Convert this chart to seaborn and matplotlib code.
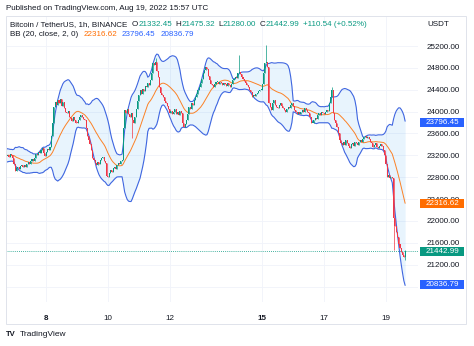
import numpy as np
import pandas as pd
import seaborn as sns
import matplotlib.pyplot as plt
from matplotlib.patches import Rectangle
import matplotlib.transforms as mtransforms

# hourly closes, BTCUSDT 1h
# aug06 starts Aug 5 22:00 (first 19 bars only feed the BB window), chart begins at Aug 6 17:00
aug06 = [23300, 23120, 23280, 23150, 23250, 23100, 23230, 23310, 23180, 23120,
         23260, 23200, 23140, 23290, 23210, 23130, 23240, 23180, 23220,
         23180, 23210, 23170, 23230, 23200, 23160, 23050]
aug07 = [22920, 22960, 22990, 22950, 23000, 23020, 22980, 23030, 22990, 23050, 23080, 23040,
         23100, 23140, 23090, 23160, 23230, 23200, 23260, 23240, 23300, 23330, 23250, 23180]
aug08 = [23260, 23320, 23290, 23360, 23550, 23800, 24090, 24180, 24130, 24210, 24150, 24230,
         24100, 24180, 24060, 24000, 23970, 24020, 23900, 23880, 23820, 23900, 23850, 23800]
aug09 = [23790, 23850, 23900, 23940, 23900, 23860, 23850, 23700, 23560, 23480, 23400, 23300,
         23150, 23115, 23060, 23020, 23080, 23050, 23120, 23150, 23175, 23100, 23060, 22820]
aug10 = [22810, 22880, 22930, 22900, 22960, 22990, 22950, 23020, 23060, 23040, 23090, 23115,
         23700, 24030, 23980, 24050, 23960, 23900, 23980, 23850, 23800, 23900, 24050, 24200]
aug11 = [24300, 24395, 24330, 24420, 24380, 24460, 24456, 24520, 24480, 24578, 24700, 24883,
         24850, 24913, 24750, 24640, 24450, 24335, 24300, 24273, 24200, 24150, 24100, 24050]
aug12 = [23970, 24020, 23950, 23990, 24040, 23960, 24000, 23940, 24010, 23980, 23800, 23724,
         23780, 23850, 23950, 24090, 24050, 24150, 24120, 24212, 24260, 24330, 24400, 24456]
aug13 = [24520, 24600, 24700, 24760, 24820, 24780, 24650, 24578, 24500, 24480, 24456, 24500,
         24540, 24547, 24500, 24550, 24520, 24490, 24530, 24500, 24470, 24520, 24480, 24456]
aug14 = [24510, 24578, 24600, 24640, 24620, 24700, 24730, 24680, 24640, 24600, 24560, 24518,
         24480, 24456, 24400, 24350, 24273, 24300, 24280, 24320, 24335, 24370, 24395, 24400]
aug15 = [24500, 24700, 24883, 24913, 24820, 24150, 24090, 24030, 24150, 24212, 24120, 24090,
         24060, 24130, 24150, 24100, 24060, 24030, 24000, 24050, 24090, 24060, 24120, 24150]
aug16 = [24100, 24030, 24000, 23950, 23990, 23950, 23990, 24030, 24000, 24060, 24030, 23990,
         23970, 23900, 23790, 23800, 23850, 23880, 23860, 23930, 23970, 23940, 23990, 23970]
aug17 = [23950, 24000, 24030, 24020, 24150, 24273, 24395, 23970, 23850, 23800, 23724, 23600,
         23480, 23420, 23390, 23450, 23390, 23480, 23420, 23380, 23330, 23400, 23420, 23380]
aug18 = [23450, 23420, 23390, 23440, 23480, 23450, 23500, 23540, 23560, 23520, 23540, 23500,
         23450, 23420, 23358, 23390, 23420, 23358, 23330, 23380, 23400, 23380, 23300, 23200]
aug19 = [23050, 22810, 22850, 22780, 22800, 22780, 22050, 21900, 21800, 21700, 21580, 21500,
         21430, 21380, 21332.45, 21442.99]

# the few long wicks that stand out (bar index -> price)
wick_high = {116: 24980, 181: 25035, 202: 25218, 253: 24450, 310: 21475.32}
wick_low = {98: 23517, 301: 21470, 310: 21280.00}

day_ticks = [31, 79, 127, 199, 247, 295]
day_labels = ['8', '10', '12', '15', '17', '19']
price_ticks = [21200, 21600, 22000, 22400, 22800, 23200, 23600, 24000, 24400, 24800, 25200]

last = dict(O='21332.45', H='21475.32', L='21280.00', C='21442.99', chg='+110.54 (+0.52%)')
bb_vals = [22316.62, 23796.45, 20836.79]

GREEN = '#089981'
RED = '#F23645'
BLUE = '#2962FF'
BAND = '#3f66e0'
ORANGE = '#FF6D00'
INK = '#131722'

sns.set_style('white')
plt.rcParams['font.family'] = ['Liberation Sans', 'DejaVu Sans']

close = aug06 + aug07 + aug08 + aug09 + aug10 + aug11 + aug12 + aug13 + aug14 + aug15 + aug16 + aug17 + aug18 + aug19
df = pd.DataFrame({'close': close})
df['k'] = np.arange(len(df)) - 19
df['open'] = df['close'].shift(1).fillna(df['close'])
df['high'] = df[['open', 'close']].max(axis=1)
df['low'] = df[['open', 'close']].min(axis=1)
for k, v in wick_high.items():
    df.loc[df.k == k, 'high'] = v
for k, v in wick_low.items():
    df.loc[df.k == k, 'low'] = v

# BB(20, close, 2)
df['basis'] = df['close'].rolling(20).mean()
sd = df['close'].rolling(20).std(ddof=0)
df['upper'] = df['basis'] + 2 * sd
df['lower'] = df['basis'] - 2 * sd
vis = df[df.k >= 0]

W, H = 474, 346
fig = plt.figure(figsize=(W / 100, H / 100), dpi=100)
ax = fig.add_axes([6 / W, 1 - 302 / H, 412 / W, 286 / H])

ax.fill_between(vis.k, vis.lower, vis.upper, color='#2196F3', alpha=0.1, lw=0)
sns.lineplot(data=vis, x='k', y='upper', color=BAND, lw=0.8, ax=ax)
sns.lineplot(data=vis, x='k', y='lower', color=BAND, lw=0.8, ax=ax)
sns.lineplot(data=vis, x='k', y='basis', color=ORANGE, lw=0.7, alpha=0.85, ax=ax)

up = vis.close >= vis.open
cols = np.where(up, GREEN, RED)
ax.vlines(vis.k, vis.low, vis.high, colors=cols, lw=0.5, zorder=3)
body = (vis.close - vis.open).abs().clip(lower=12)
ax.bar(vis.k, body, bottom=vis[['open', 'close']].min(axis=1), width=0.8,
       color=cols, lw=0, zorder=4)

ax.axhline(float(last['C']), color=GREEN, lw=0.6, ls=(0, (1, 1.5)), zorder=2)

ax.set_xlim(-0.2, 320)
ax.set_ylim(20518, 25749)
ax.set_xticks(day_ticks)
ax.set_xticklabels(day_labels)
for t, lab in zip(ax.get_xticklabels(), day_labels):
    if lab in ('8', '15'):
        t.set_fontweight('bold')
ax.set_yticks(price_ticks)
ax.set_yticklabels([f'{p:.2f}' for p in price_ticks])
ax.set_yticks([20800], minor=True)
ax.yaxis.tick_right()
ax.tick_params(axis='both', which='both', length=0, labelsize=5.8, colors=INK)
ax.tick_params(axis='x', pad=9)
ax.tick_params(axis='y', pad=6.5)
ax.grid(True, which='both', color='#f0f3fa', lw=0.6)
ax.set_axisbelow(True)
ax.set_xlabel('')
ax.set_ylabel('')
for s in ax.spines.values():
    s.set_visible(False)

# price badges on the scale
tr = mtransforms.blended_transform_factory(ax.transAxes, ax.transData)
bx0, bx1 = (420 - 6) / 412, (464 - 6) / 412
badge_h = 9 * (25749 - 20518) / 286
for val, txt, c in [(bb_vals[1], '23796.45', BLUE), (bb_vals[0], '22316.62', ORANGE),
                    (float(last['C']), last['C'], GREEN), (bb_vals[2], '20836.79', BLUE)]:
    ax.add_patch(Rectangle((bx0, val - badge_h / 2), bx1 - bx0, badge_h, transform=tr,
                           fc=c, ec='none', clip_on=False, zorder=10))
    ax.text((bx0 + bx1) / 2, val, txt, transform=tr, ha='center', va='center',
            color='white', fontsize=5.8, zorder=11, clip_on=False)

# frame around chart + scales
fig.add_artist(Rectangle((6 / W, 1 - 324 / H), 460 / W, 308 / H, transform=fig.transFigure,
                         fill=False, ec='#e0e3eb', lw=0.7))

fig.text(6 / W, 1 - 9 / H, 'Published on TradingView.com, Aug 19, 2022 15:57 UTC',
         fontsize=5.8, color=INK, va='center')
fig.text(427 / W, 1 - 25 / H, 'USDT', fontsize=5.8, color=INK, va='center')


def chain(first, parts):
    prev = first
    for txt, c, gap in parts:
        prev = ax.annotate(txt, xy=(1, 0.5), xycoords=prev, xytext=(gap, 0),
                           textcoords='offset points', va='center', ha='left',
                           fontsize=5.8, color=c)


t2 = fig.text(10 / W, 1 - 25 / H, 'Bitcoin / TetherUS, 1h, BINANCE', fontsize=5.8, color=INK, va='center')
chain(t2, [('O', INK, 3.5), (last['O'], GREEN, 0), ('H', INK, 2.5), (last['H'], GREEN, 0),
           ('L', INK, 2.5), (last['L'], GREEN, 0), ('C', INK, 2.5), (last['C'], GREEN, 0),
           (last['chg'], GREEN, 2.5)])
t3 = fig.text(10 / W, 1 - 35 / H, 'BB (20, close, 2, 0)', fontsize=5.8, color=INK, va='center')
chain(t3, [('22316.62', ORANGE, 3.5), ('23796.45', BLUE, 3.5), ('20836.79', BLUE, 3.5)])

fig.text(6 / W, 1 - 335 / H, 'TV', fontsize=5.5, fontweight='bold', color=INK, va='center')
fig.text(20 / W, 1 - 335 / H, 'TradingView', fontsize=6, color=INK, va='center')

fig.savefig('out.png', dpi=100)
